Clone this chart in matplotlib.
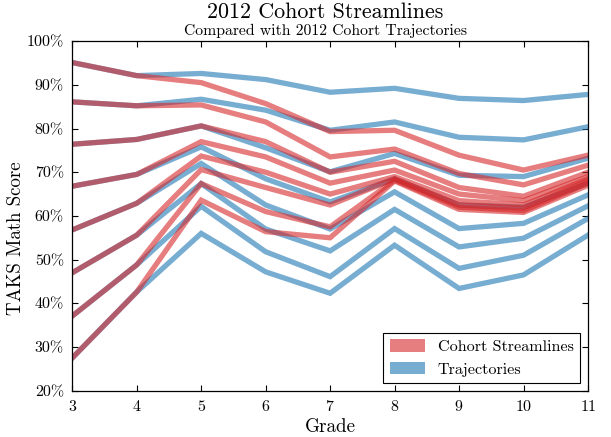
import matplotlib
matplotlib.use("Agg")
import matplotlib.pyplot as plt
from matplotlib.patches import Patch
from matplotlib.ticker import FuncFormatter

plt.rcParams["font.family"] = ["cmr10", "DejaVu Serif"]
plt.rcParams["mathtext.fontset"] = "cm"
plt.rcParams["axes.unicode_minus"] = False
plt.rcParams["axes.formatter.use_mathtext"] = True

grades = [3, 4, 5, 6, 7, 8, 9, 10, 11]

# Trajectories (percent correct)
traj_1 = [95.1, 92.1, 92.6, 91.2, 88.3, 89.2, 86.9, 86.4, 87.8]
traj_2 = [86.1, 85.2, 86.7, 84.2, 79.6, 81.5, 78.0, 77.4, 80.4]
traj_3 = [76.4, 77.5, 80.6, 75.6, 70.1, 74.3, 69.3, 69.0, 73.2]
traj_4 = [66.8, 69.5, 75.8, 68.5, 63.2, 68.5, 62.5, 62.0, 67.5]
traj_5 = [56.8, 62.9, 72.0, 62.5, 57.0, 65.5, 57.1, 58.3, 64.8]
traj_6 = [47.0, 55.6, 67.4, 57.0, 52.0, 61.5, 52.9, 54.9, 62.3]
traj_7 = [37.1, 48.8, 62.2, 51.8, 46.1, 57.1, 48.0, 51.0, 59.4]
traj_8 = [27.5, 42.6, 56.0, 47.2, 42.3, 53.3, 43.4, 46.5, 55.6]

# Cohort streamlines (percent correct)
stream_1 = [95.1, 92.1, 90.5, 85.7, 79.3, 79.6, 73.9, 70.5, 73.9]
stream_2 = [86.1, 85.2, 85.4, 81.5, 73.5, 75.3, 69.7, 67.1, 71.6]
stream_3 = [76.4, 77.5, 80.6, 77.0, 70.0, 72.5, 66.5, 64.5, 70.0]
stream_4 = [66.8, 69.5, 77.0, 73.5, 67.5, 70.5, 65.0, 63.5, 69.0]
stream_5 = [56.8, 62.9, 73.7, 70.0, 65.0, 69.0, 63.5, 62.5, 68.5]
stream_6 = [47.0, 55.6, 70.6, 66.5, 62.5, 68.5, 62.5, 61.8, 68.0]
stream_7 = [37.1, 48.8, 67.4, 61.0, 57.5, 68.2, 62.0, 61.2, 67.5]
stream_8 = [27.5, 42.6, 63.6, 56.4, 55.0, 68.0, 61.5, 60.8, 67.0]

trajectories = [traj_1, traj_2, traj_3, traj_4, traj_5, traj_6, traj_7, traj_8]
streamlines = [stream_1, stream_2, stream_3, stream_4, stream_5, stream_6, stream_7, stream_8]

blue = "#1f77b4"
red = "#d62728"
alpha = 0.6
lw = 3.8

fig = plt.figure(figsize=(6.11, 4.37), dpi=100)
ax = fig.add_axes([0.1183, 0.1059, 0.844, 0.800])

for t in trajectories:
    ax.plot(grades, t, color=blue, alpha=alpha, lw=lw, solid_joinstyle="miter")
for s in streamlines:
    ax.plot(grades, s, color=red, alpha=alpha, lw=lw, solid_joinstyle="miter")

ax.set_xlim(3, 11)
ax.set_ylim(20, 100)
ax.set_xticks(grades)
ax.set_yticks(range(20, 101, 10))
ax.yaxis.set_major_formatter(FuncFormatter(lambda v, p: f"{int(v)}%"))
ax.tick_params(direction="in", top=True, right=True, length=4, width=0.8,
               labelsize=11.5, pad=6)
for sp in ax.spines.values():
    sp.set_linewidth(0.9)

ax.set_xlabel("Grade", fontsize=13.8, va="top")
ax.xaxis.set_label_coords(0.5, -0.078)
ax.set_ylabel("TAKS Math Score", fontsize=13.6)
ax.yaxis.set_label_coords(-0.092, 0.437)

fig.text(0.533, 0.972, "2012 Cohort Streamlines", ha="center", va="center",
         fontsize=15.8)
fig.text(0.533, 0.929, "Compared with 2012 Cohort Trajectories", ha="center",
         va="center", fontsize=11.3)

handles = [Patch(facecolor=red, alpha=alpha, edgecolor="none"),
           Patch(facecolor=blue, alpha=alpha, edgecolor="none")]
leg = ax.legend(handles, ["Cohort Streamlines", "Trajectories"],
                loc="lower right", fontsize=11.6, fancybox=False,
                edgecolor="black", framealpha=1, handlelength=2.2,
                handleheight=0.85, borderpad=0.38, labelspacing=0.45,
                handletextpad=0.8, borderaxespad=0.5)
leg.get_frame().set_linewidth(0.8)

fig.savefig("out.png", dpi=100)
